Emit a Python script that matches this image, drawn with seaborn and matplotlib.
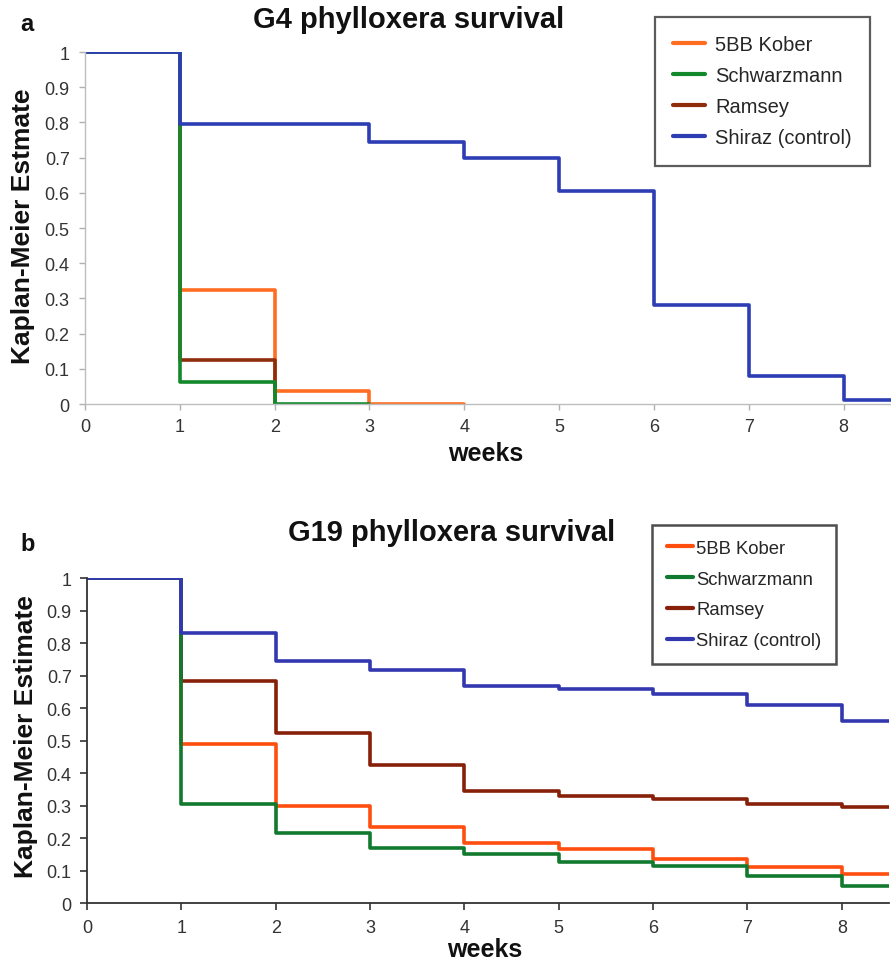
import numpy as np
import pandas as pd
import matplotlib
matplotlib.use("Agg")
import matplotlib.pyplot as plt
import seaborn as sns
from matplotlib.lines import Line2D

# Cultivars (legend order)
cultivars = ["5BB Kober", "Schwarzmann", "Ramsey", "Shiraz (control)"]
week_ticks = list(range(0, 9))
surv_ticks = [0, 0.1, 0.2, 0.3, 0.4, 0.5, 0.6, 0.7, 0.8, 0.9, 1]
surv_tick_labels = ["0", "0.1", "0.2", "0.3", "0.4", "0.5", "0.6", "0.7", "0.8", "0.9", "1"]

# G4 Kaplan-Meier estimates at weeks 0, 1, 2, ...
g4_kober = [1.0, 0.325, 0.038, 0.0]
g4_schwarzmann = [1.0, 0.063, 0.0]
g4_ramsey = [1.0, 0.125, 0.0]
g4_shiraz = [1.0, 0.795, 0.795, 0.745, 0.700, 0.605, 0.280, 0.080, 0.012]
g4_end_week = [4, 3, 2, 8.5]

# G19 Kaplan-Meier estimates at weeks 0, 1, 2, ...
g19_kober = [1.0, 0.490, 0.299, 0.236, 0.186, 0.167, 0.136, 0.111, 0.090]
g19_schwarzmann = [1.0, 0.306, 0.216, 0.169, 0.152, 0.126, 0.116, 0.085, 0.052]
g19_ramsey = [1.0, 0.685, 0.525, 0.426, 0.345, 0.330, 0.321, 0.305, 0.295]
g19_shiraz = [1.0, 0.831, 0.746, 0.719, 0.670, 0.660, 0.644, 0.610, 0.560]
g19_end_week = [8.5, 8.5, 8.5, 8.5]

colors_a = {"5BB Kober": "#FF6D22", "Schwarzmann": "#12892A",
            "Ramsey": "#8E2C0C", "Shiraz (control)": "#2D3DB4"}
colors_b = {"5BB Kober": "#FF4E0E", "Schwarzmann": "#127A2E",
            "Ramsey": "#862008", "Shiraz (control)": "#3338B0"}

# bottom-to-top drawing order
draw_order = ["5BB Kober", "Ramsey", "Schwarzmann", "Shiraz (control)"]


def km_frame(series, end_weeks):
    rows = []
    for name, vals, end in zip(cultivars, series, end_weeks):
        weeks = list(range(len(vals))) + [end]
        surv = list(vals) + [vals[-1]]
        for w, s in zip(weeks, surv):
            rows.append({"week": w, "survival": s, "cultivar": name})
    return pd.DataFrame(rows)


df_a = km_frame([g4_kober, g4_schwarzmann, g4_ramsey, g4_shiraz], g4_end_week)
df_b = km_frame([g19_kober, g19_schwarzmann, g19_ramsey, g19_shiraz], g19_end_week)

sns.set_style("white")
plt.rcParams["font.family"] = ["Liberation Sans", "DejaVu Sans"]

fig = plt.figure(figsize=(8.91, 9.62), dpi=100)
W, H = 891.0, 962.0
ax_a = fig.add_axes([85 / W, 557 / H, 806 / W, 352 / H])
ax_b = fig.add_axes([87 / W, 57.7 / H, 802 / W, 325 / H])

for ax, df, pal in [(ax_a, df_a, colors_a), (ax_b, df_b, colors_b)]:
    sns.lineplot(data=df, x="week", y="survival", hue="cultivar",
                 hue_order=draw_order, palette=pal, estimator=None, sort=False,
                 drawstyle="steps-post", lw=2.6, legend=False, ax=ax)
    ax.set_xlim(0, 8.5)
    ax.set_ylim(0, 1)
    ax.set_xticks(week_ticks)
    ax.set_xticklabels([str(w) for w in week_ticks])
    ax.set_yticks(surv_ticks)
    ax.set_yticklabels(surv_tick_labels)
    ax.set_xlabel("")
    ax.set_ylabel("")
    for s in ("top", "right"):
        ax.spines[s].set_visible(False)

# panel a: light grey axes
for s in ("left", "bottom"):
    ax_a.spines[s].set_color("#bdbdbd")
    ax_a.spines[s].set_linewidth(1.0)
ax_a.tick_params(axis="both", which="major", length=4, width=1.0,
                 color="#b0b0b0", labelsize=13, labelcolor="#333333", pad=6)
ax_a.tick_params(axis="y", left=True, pad=7)
ax_a.tick_params(axis="x", bottom=True)
ax_a.set_ylabel("Kaplan-Meier Estmate", fontsize=19, fontweight="bold", color="#111111")
ax_a.yaxis.set_label_coords(-0.062, 0.507)

# panel b: dark axes
for s in ("left", "bottom"):
    ax_b.spines[s].set_color("#333333")
    ax_b.spines[s].set_linewidth(1.3)
ax_b.tick_params(axis="both", which="major", length=5, width=1.2,
                 color="#333333", labelsize=13, labelcolor="#333333", pad=6)
ax_b.tick_params(axis="y", left=True)
ax_b.tick_params(axis="x", bottom=True)
ax_b.set_ylabel("Kaplan-Meier Estimate", fontsize=19, fontweight="bold", color="#111111")
ax_b.yaxis.set_label_coords(-0.061, 0.516)

# titles, panel letters, x labels
fig.text(253 / W, 1 - 28 / H, "G4 phylloxera survival", fontsize=21,
         fontweight="bold", color="#111111", ha="left", va="baseline")
fig.text(288 / W, 1 - 541 / H, "G19 phylloxera survival", fontsize=21,
         fontweight="bold", color="#111111", ha="left", va="baseline")
fig.text(27 / W, 1 - 31 / H, "a", fontsize=17, fontweight="bold",
         color="#111111", ha="center", va="baseline")
fig.text(28 / W, 1 - 551 / H, "b", fontsize=17, fontweight="bold",
         color="#111111", ha="center", va="baseline")
fig.text(486 / W, 1 - 461 / H, "weeks", fontsize=18, fontweight="bold",
         color="#111111", ha="center", va="baseline")
fig.text(485 / W, 1 - 957 / H, "weeks", fontsize=18, fontweight="bold",
         color="#111111", ha="center", va="baseline")

# legends
handles_a = [Line2D([0], [0], color=colors_a[c], lw=3) for c in cultivars]
leg_a = ax_a.legend(handles_a, cultivars, loc="upper left",
                    bbox_to_anchor=(655 / W, 1 - 18 / H), bbox_transform=fig.transFigure,
                    fontsize=14.5, frameon=True, fancybox=False, borderpad=0.9,
                    handlelength=1.6, handletextpad=0.5, labelspacing=0.6,
                    borderaxespad=0)
leg_a.get_frame().set_edgecolor("#333333")
leg_a.get_frame().set_linewidth(1.6)

handles_b = [Line2D([0], [0], color=colors_b[c], lw=3) for c in cultivars]
leg_b = ax_b.legend(handles_b, cultivars, loc="upper left",
                    bbox_to_anchor=(652 / W, 1 - 526 / H), bbox_transform=fig.transFigure,
                    fontsize=13.3, frameon=True, fancybox=False, borderpad=0.8,
                    handlelength=1.4, handletextpad=0.2, labelspacing=0.75,
                    borderaxespad=0)
leg_b.get_frame().set_edgecolor("#222222")
leg_b.get_frame().set_linewidth(1.8)

fig.savefig("out.png", dpi=100)
